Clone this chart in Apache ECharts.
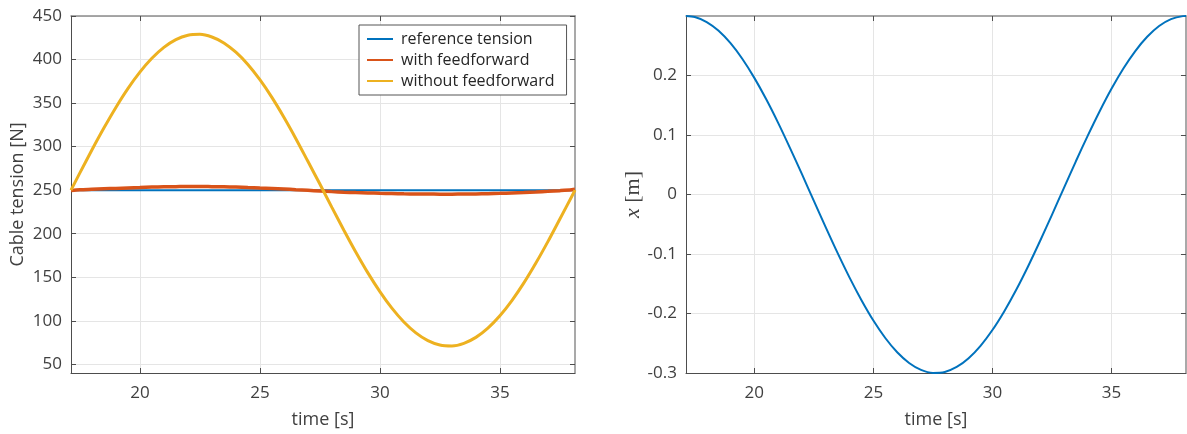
<!DOCTYPE html>
<html>
<head>
<meta charset="utf-8">
<script src="https://cdn.jsdelivr.net/npm/echarts@6/dist/echarts.min.js"></script>
<style>
  html, body { margin: 0; padding: 0; background: #fff; }
  #chart { width: 1187px; height: 434px; }
</style>
</head>
<body>
<div id="chart"></div>
<script>
// Sample times [s]
const time = [17.13, 17.5, 18.0, 18.5, 19.0, 19.5, 20.0, 20.5, 21.0, 21.5, 22.0, 22.5,
  23.0, 23.5, 24.0, 24.5, 25.0, 25.5, 26.0, 26.5, 27.0, 27.5, 28.0, 28.5, 29.0, 29.5,
  30.0, 30.5, 31.0, 31.5, 32.0, 32.5, 33.0, 33.5, 34.0, 34.5, 35.0, 35.5, 36.0, 36.5,
  37.0, 37.5, 38.0, 38.13];

// Cable tension [N]
const refTime = [17.13, 38.13];
const referenceTension = [250, 250];
const withFeedforward = [249.5, 250.5, 251, 251.5, 252, 252.5, 253, 253.5, 253.8, 254, 254.2, 254.2,
  254, 253.8, 253.5, 253, 252.5, 252, 251.3, 250.5, 249.8, 249, 248.3, 247.7, 247.2, 246.8,
  246.4, 246.1, 245.8, 245.6, 245.5, 245.4, 245.4, 245.5, 245.7, 246, 246.3, 246.8, 247.3, 247.9,
  248.6, 249.4, 250.4, 251];
const withoutFeedforward = [250, 269.8, 296.1, 321.3, 345.0, 366.6, 385.5, 401.4, 413.9, 422.8, 427.8, 428.9,
  425.9, 419.1, 408.4, 394.3, 376.8, 356.5, 333.7, 309.1, 283.1, 257.0, 230.2, 204.0, 178.7, 155.0,
  133.5, 114.5, 98.6, 86.1, 77.2, 72.2, 71.1, 74.1, 80.9, 91.5, 105.7, 123.2, 143.5, 166.3,
  190.9, 216.9, 243.0, 250];

// Position x [m]
const position = [0.3, 0.2982, 0.2899, 0.2752, 0.2543, 0.2277, 0.1960, 0.1600, 0.1204, 0.0780, 0.0341, -0.0108,
  -0.0553, -0.0986, -0.1397, -0.1776, -0.2118, -0.2412, -0.2652, -0.2832, -0.2948, -0.2998, -0.2982, -0.2899,
  -0.2752, -0.2543, -0.2278, -0.1961, -0.1601, -0.1205, -0.0781, -0.0341, 0.0107, 0.0554, 0.0985, 0.1395,
  0.1776, 0.2117, 0.2411, 0.2651, 0.2832, 0.2948, 0.2998, 0.3];

// Axis ticks
const timeTicks = [20, 25, 30, 35];
const tensionTicks = [50, 100, 150, 200, 250, 300, 350, 400, 450];
const positionTicks = [-0.3, -0.2, -0.1, 0, 0.1, 0.2];

const seriesNames = ['reference tension', 'with feedforward', 'without feedforward'];
const colors = ['#0072BD', '#D95319', '#EDB120'];

const FONT = 'Open Sans';
const TEXT = '#404040';
const AXIS_DARK = '#4d4d4d';
const AXIS_LIGHT = '#8c8c8c';
const GRIDC = '#e5e5e5';

const pairs = (xs, ys) => xs.map((x, i) => [x, ys[i]]);

function xAxisPair(gridIndex) {
  const base = { type: 'value', gridIndex, min: 17.13, max: 38.13 };
  return [
    Object.assign({}, base, {
      position: 'bottom',
      name: 'time [s]', nameLocation: 'middle', nameGap: 38,
      nameTextStyle: { fontFamily: FONT, fontSize: 18, color: TEXT },
      axisLine: { show: true, onZero: false, lineStyle: { color: AXIS_DARK, width: 1 } },
      axisTick: { show: true, inside: true, length: 5, customValues: timeTicks, lineStyle: { color: AXIS_DARK } },
      axisLabel: { customValues: timeTicks, margin: 12, fontFamily: FONT, fontSize: 17, color: TEXT },
      splitLine: { show: true, lineStyle: { color: GRIDC, width: 1 } }
    }),
    Object.assign({}, base, {
      position: 'top',
      axisLine: { show: true, onZero: false, lineStyle: { color: AXIS_LIGHT, width: 1.5 } },
      axisTick: { show: true, inside: true, length: 5, customValues: timeTicks, lineStyle: { color: AXIS_DARK } },
      axisLabel: { show: false },
      splitLine: { show: false }
    })
  ];
}

const option = {
  animation: false,
  backgroundColor: '#ffffff',
  textStyle: { fontFamily: FONT },
  grid: [
    { left: 71, top: 16, width: 504, height: 359 },
    { left: 686, top: 16, width: 500, height: 359 }
  ],
  legend: {
    data: seriesNames,
    orient: 'vertical',
    left: 359, top: 25,
    padding: [4, 12, 4, 8],
    itemGap: 1,
    itemWidth: 26, itemHeight: 2,
    icon: 'rect',
    backgroundColor: '#ffffff',
    borderColor: '#555555', borderWidth: 1, borderRadius: 0,
    textStyle: { fontFamily: FONT, fontSize: 16, color: '#262626', lineHeight: 20, padding: [0, 0, 0, 3] }
  },
  xAxis: [...xAxisPair(0), ...xAxisPair(1)],
  yAxis: [
    {
      type: 'value', gridIndex: 0, min: 40, max: 450, position: 'left',
      name: 'Cable tension [N]', nameLocation: 'middle', nameGap: 44,
      nameTextStyle: { fontFamily: FONT, fontSize: 18, color: TEXT },
      axisLine: { show: true, onZero: false, lineStyle: { color: AXIS_DARK, width: 1 } },
      axisTick: { show: true, inside: true, length: 5, customValues: tensionTicks, lineStyle: { color: AXIS_DARK } },
      axisLabel: { customValues: tensionTicks, margin: 9, fontFamily: FONT, fontSize: 17, color: TEXT },
      splitLine: { show: true, lineStyle: { color: GRIDC, width: 1 } }
    },
    {
      type: 'value', gridIndex: 0, min: 40, max: 450, position: 'right',
      axisLine: { show: true, onZero: false, lineStyle: { color: AXIS_LIGHT, width: 1.5 } },
      axisTick: { show: true, inside: true, length: 5, customValues: tensionTicks, lineStyle: { color: AXIS_DARK } },
      axisLabel: { show: false },
      splitLine: { show: false }
    },
    {
      type: 'value', gridIndex: 1, min: -0.3, max: 0.3, position: 'left',
      name: '{i|x} [m]', nameLocation: 'middle', nameGap: 40,
      nameTextStyle: {
        fontFamily: 'Liberation Serif', fontSize: 22, color: TEXT,
        rich: { i: { fontFamily: 'Liberation Serif', fontStyle: 'italic', fontSize: 22, color: TEXT } }
      },
      axisLine: { show: true, onZero: false, lineStyle: { color: AXIS_DARK, width: 1 } },
      axisTick: { show: true, inside: true, length: 5, customValues: positionTicks, lineStyle: { color: AXIS_DARK } },
      axisLabel: { customValues: positionTicks, margin: 9, fontFamily: FONT, fontSize: 17, color: TEXT,
        formatter: v => (Math.abs(v) < 1e-9 ? '0' : String(Math.round(v * 10) / 10)) },
      splitLine: { show: true, lineStyle: { color: GRIDC, width: 1 } }
    },
    {
      type: 'value', gridIndex: 1, min: -0.3, max: 0.3, position: 'right',
      axisLine: { show: true, onZero: false, lineStyle: { color: AXIS_LIGHT, width: 1.5 } },
      axisTick: { show: true, inside: true, length: 5, customValues: positionTicks, lineStyle: { color: AXIS_DARK } },
      axisLabel: { show: false },
      splitLine: { show: false }
    }
  ],
  series: [
    {
      name: seriesNames[0], type: 'line', xAxisIndex: 0, yAxisIndex: 0,
      data: pairs(refTime, referenceTension), showSymbol: false, symbol: 'none',
      lineStyle: { color: colors[0], width: 2 }, itemStyle: { color: colors[0] }, z: 2
    },
    {
      name: seriesNames[1], type: 'line', xAxisIndex: 0, yAxisIndex: 0,
      data: pairs(time, withFeedforward), showSymbol: false, symbol: 'none', smooth: 0.3,
      lineStyle: { color: colors[1], width: 3.5 }, itemStyle: { color: colors[1] }, z: 3
    },
    {
      name: seriesNames[2], type: 'line', xAxisIndex: 0, yAxisIndex: 0,
      data: pairs(time, withoutFeedforward), showSymbol: false, symbol: 'none', smooth: 0.3,
      lineStyle: { color: colors[2], width: 3 }, itemStyle: { color: colors[2] }, z: 4
    },
    {
      name: 'position', type: 'line', xAxisIndex: 2, yAxisIndex: 2,
      data: pairs(time, position), showSymbol: false, symbol: 'none', smooth: 0.3,
      lineStyle: { color: colors[0], width: 2 }, itemStyle: { color: colors[0] }
    }
  ]
};

const chart = echarts.init(document.getElementById('chart'), null, { renderer: 'canvas' });
chart.setOption(option);
</script>
</body>
</html>
